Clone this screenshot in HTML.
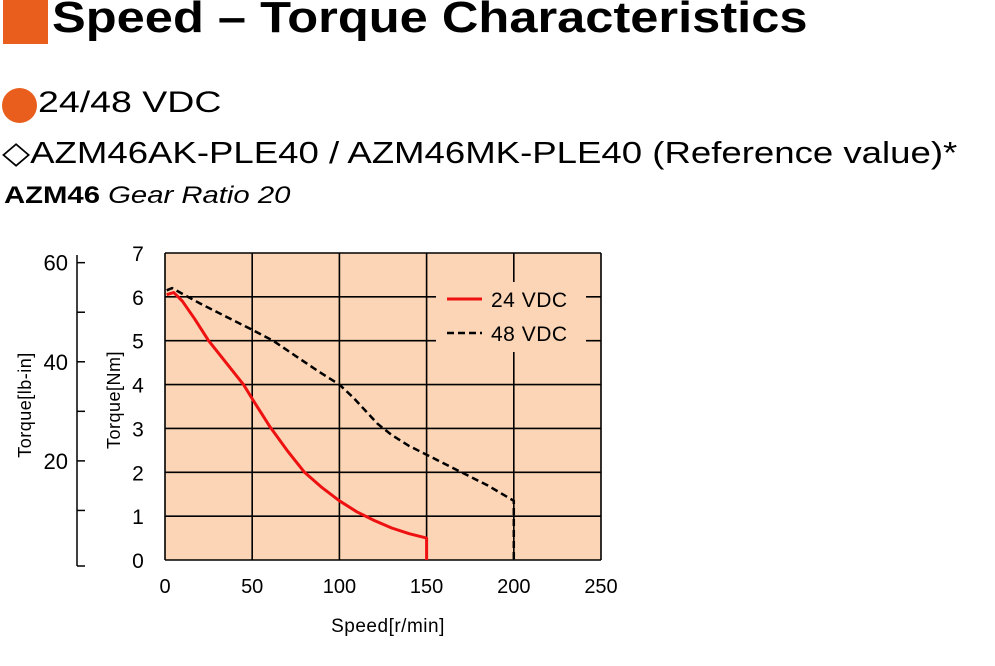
<!DOCTYPE html>
<html><head><meta charset="utf-8"><style>
body{margin:0;width:995px;height:666px;background:#fff;overflow:hidden;position:relative;font-family:"Liberation Sans",sans-serif;}
.t{position:absolute;white-space:nowrap;color:#000;transform-origin:0 0;}
</style></head><body>
<div style="position:absolute;left:3px;top:0;width:45px;height:44px;background:#e95e1d"></div>
<div class="t" style="left:52px;top:-7px;font-size:44px;font-weight:bold;transform:scaleX(1.15)">Speed – Torque Characteristics</div>
<div style="position:absolute;left:2px;top:88px;width:35px;height:35px;border-radius:50%;background:#e95e1d"></div>
<div class="t" style="left:38px;top:86px;font-size:30px;transform:scaleX(1.25)">24/48 VDC</div>
<div class="t" style="left:2px;top:135px;font-size:31px;transform:scaleX(1.18)">◇AZM46AK-PLE40 / AZM46MK-PLE40 (Reference value)*</div>
<div class="t" style="left:4px;top:182px;font-size:24px;transform:scaleX(1.22)"><b>AZM46</b> <i>Gear Ratio 20</i></div>
<svg width="995" height="666" style="position:absolute;left:0;top:0" xmlns="http://www.w3.org/2000/svg">
<g id="chart"></g>
</svg>
<script>
const xTicks=[0,50,100,150,200,250];
const yTicks=[0,1,2,3,4,5,6,7];
const lbTicks=[10,20,30,40,50,60];
const lbLabels=[20,40,60];
const speed24=[1,5,10,17,25,35,45,52,60,70,80,90,100,110,120,130,140,150,150];
const torque24=[6.05,6.1,5.9,5.5,5.0,4.5,4.0,3.55,3.05,2.5,2.0,1.65,1.35,1.1,0.9,0.73,0.6,0.5,0];
const speed48=[1,4,20,35,50,62,75,88,100,108,115,122,130,140,150,160,170,185,200,200];
const torque48=[6.15,6.2,5.85,5.55,5.25,5.0,4.65,4.3,4.0,3.7,3.4,3.1,2.85,2.6,2.4,2.2,2.0,1.7,1.35,0];
const X0=165,X1=601,Y0=560,Y1=253;
const xs=v=>X0+(v/250)*(X1-X0);
const ys=v=>Y0-(v/7)*(Y0-Y1);
const ylb=v=>ys(v/8.85);
const g=document.getElementById('chart');
const NS='http://www.w3.org/2000/svg';
function mk(tag,attrs,txt){const e=document.createElementNS(NS,tag);for(const k in attrs)e.setAttribute(k,attrs[k]);if(txt!==undefined)e.textContent=txt;g.appendChild(e);return e;}
let e=mk('rect',{x:X0,y:Y1,width:X1-X0,height:Y0-Y1,fill:'#fbd5b5'});


xTicks.forEach(v=>{
 let l=mk('line',{x1:xs(v),x2:xs(v),y1:Y1,y2:Y0,stroke:'#000','stroke-width':1.6});
 
 
 let t=mk('text',{x:xs(v),y:Y0+33,'font-size':20,'text-anchor':'middle',fill:'#000','font-family':'Liberation Sans'},v);
 
 
});
yTicks.forEach(v=>{
 let l=mk('line',{x1:X0,x2:X1,y1:ys(v),y2:ys(v),stroke:'#000','stroke-width':1.6});
 
 
 let t=mk('text',{x:X0-27,y:ys(v)+8,'font-size':21,'text-anchor':'middle',fill:'#000','font-family':'Liberation Sans'},v);
 
 
});
let ax=mk('line',{x1:77,x2:77,y1:255,y2:566,stroke:'#000','stroke-width':1.5});


let tk=mk('line',{x1:77,x2:85,y1:566,y2:566,stroke:'#000','stroke-width':1.5});


lbTicks.forEach(v=>{
 let l=mk('line',{x1:77,x2:85,y1:ylb(v),y2:ylb(v),stroke:'#000','stroke-width':1.5});
 
 
});
lbLabels.forEach(v=>{
 let t=mk('text',{x:68,y:ylb(v)+8,'font-size':22,'text-anchor':'end',fill:'#000','font-family':'Liberation Sans'},v);
 
 
});
let a1=mk('text',{transform:'translate(31,405) rotate(-90)','font-size':18,'text-anchor':'middle',fill:'#000','font-family':'Liberation Sans','letter-spacing':'0.5'},'Torque[lb-in]');


let a2=mk('text',{transform:'translate(120,400) rotate(-90)','font-size':18,'text-anchor':'middle',fill:'#000','font-family':'Liberation Sans','letter-spacing':'0.5'},'Torque[Nm]');


let a3=mk('text',{x:388,y:632,'font-size':19,'text-anchor':'middle',fill:'#000','font-family':'Liberation Sans','letter-spacing':'0.5'},'Speed[r/min]');


function pts(sx,sy){return sx.map((s,i)=>xs(s).toFixed(1)+','+ys(sy[i]).toFixed(1)).join(' ');}
let lg=mk('rect',{x:436,y:282,width:150,height:70,fill:'#fbd5b5'});


let s48=mk('polyline',{points:pts(speed48,torque48),fill:'none',stroke:'#000','stroke-width':2.5,'stroke-dasharray':'7,4'});


let s24=mk('polyline',{points:pts(speed24,torque24),fill:'none',stroke:'#ee1111','stroke-width':3,'stroke-linejoin':'round'});


let l1=mk('line',{x1:447,x2:482,y1:299,y2:299,stroke:'#ee1111','stroke-width':3});


let t1=mk('text',{x:491,y:307,'font-size':21,fill:'#000','font-family':'Liberation Sans','letter-spacing':'0.5'},'24 VDC');


let l2=mk('line',{x1:447,x2:482,y1:333,y2:333,stroke:'#000','stroke-width':2.5,'stroke-dasharray':'7,4'});


let t2=mk('text',{x:491,y:341,'font-size':21,fill:'#000','font-family':'Liberation Sans','letter-spacing':'0.5'},'48 VDC');


</script>
</body></html>
